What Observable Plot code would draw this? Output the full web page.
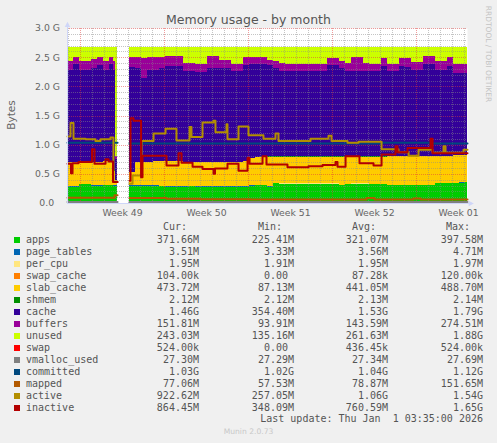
<!DOCTYPE html>
<html><head><meta charset="utf-8">
<script src="https://cdn.jsdelivr.net/npm/d3@7"></script>
<script src="https://cdn.jsdelivr.net/npm/@observablehq/plot@0.6"></script>
<style>
html,body{margin:0;padding:0;background:#F0F0F0;}
#wrap{position:relative;width:497px;height:443px;overflow:hidden;background:#F0F0F0;font-family:"DejaVu Sans",sans-serif;color:#666;}
#chart{position:absolute;left:0;top:0;}
.t{position:absolute;white-space:pre;}
.mono{font-family:"DejaVu Sans Mono",monospace;font-size:10px;line-height:12px;color:#555;}
.sw{position:absolute;width:6px;height:6px;}
</style></head><body><div id="wrap"><div id="chart"></div></div>
<script>
// ---------- series names & colours ----------
const allNames = ["apps","page_tables","per_cpu","swap_cache","slab_cache","shmem","cache","buffers","unused","swap","vmalloc_used","committed","mapped","active","inactive"];
const allColors = ["#00CC00","#0066B3","#FFE680","#FF8000","#FFCC00","#008F00","#330099","#990099","#CCFF00","#FF0000","#808080","#00487D","#B35A00","#B38F00","#B30000"];
const areaNames = allNames.slice(0, 10);

// ---------- time axis (days since graph start) ----------
const xMax = 33.33;
const weekStarts = [1.083, 8.083, 15.083, 22.083, 29.083];
const weekLabels = ["Week 49", "Week 50", "Week 51", "Week 52", "Week 01"];
const yTicks = [0, 0.5, 1.0, 1.5, 2.0, 2.5, 3.0];
const yTickLabels = ["0.0\u00a0\u00a0", "0.5 G", "1.0 G", "1.5 G", "2.0 G", "2.5 G", "3.0 G"];

// ---------- segment A (before the gap), values in G ----------
const segA_t = [0, 0.5, 1, 1.5, 2, 2.5, 3, 3.5, 3.85, 4];
const segA_end = 4.17;
const appsA    = [.28,.28,.32,.32,.30,.30,.31,.31,.30,.30];
const slabA    = [.42,.42,.39,.39,.40,.40,.40,.40,.25,.09];
const cacheA   = [1.57,1.68,1.57,1.56,1.60,1.66,1.57,1.66,1.72,.36];
const buffersA = [.15,.12,.15,.15,.16,.14,.14,.13,.15,.04];
const unusedA  = [.25,.17,.24,.25,.21,.17,.25,.17,.25,1.88];

// ---------- segment B (after the gap) ----------
const segB_t = [5.17,5.67,6.17,6.67,7.17,7.67,8.17,8.67,9.17,9.67,
  10.17,10.67,11.17,11.67,12.17,12.67,13.17,13.67,14.17,14.67,
  15.17,15.67,16.17,16.67,17.17,17.67,18.17,18.67,19.17,19.67,
  20.17,20.67,21.17,21.67,22.17,22.67,23.17,23.67,24.17,24.67,
  25.17,25.67,26.17,26.67,27.17,27.67,28.17,28.67,29.17,29.67,
  30.17,30.67,31.17,31.67,32.17,32.67,33.17];
const segB_end = 33.33;
const appsB = [.30,.30,.30,.30,.30,.29,.28,.28,.28,.28,
  .29,.28,.28,.28,.28,.28,.28,.28,.28,.28,
  .30,.31,.31,.28,.34,.33,.33,.33,.33,.33,
  .33,.33,.33,.33,.33,.31,.32,.33,.33,.33,
  .32,.32,.32,.31,.31,.31,.31,.31,.31,.31,
  .31,.34,.34,.34,.34,.35,.36];
const slabB = [.23,.40,.40,.40,.41,.42,.43,.43,.43,.42,
  .41,.42,.42,.42,.42,.42,.42,.42,.42,.43,
  .47,.47,.48,.51,.45,.46,.46,.46,.46,.46,
  .46,.46,.46,.46,.46,.48,.47,.46,.46,.46,
  .47,.47,.47,.49,.49,.49,.49,.49,.49,.49,
  .49,.46,.46,.46,.47,.46,.46];
const cacheB = [1.80,1.60,1.44,1.58,1.57,1.59,1.63,1.63,1.63,1.55,
  1.55,1.54,1.54,1.61,1.61,1.61,1.61,1.55,1.55,1.64,
  1.60,1.60,1.59,1.57,1.51,1.46,1.46,1.46,1.46,1.46,
  1.46,1.46,1.46,1.57,1.57,1.51,1.46,1.46,1.46,1.46,
  1.46,1.46,1.55,1.45,1.45,1.54,1.53,1.47,1.47,1.57,
  1.57,1.47,1.47,1.54,1.41,1.41,1.40];
const buffersB = [.17,.20,.34,.22,.22,.20,.17,.17,.17,.14,
  .14,.13,.13,.20,.20,.13,.13,.13,.13,.15,
  .13,.11,.11,.09,.12,.14,.12,.12,.12,.12,
  .12,.12,.13,.12,.12,.12,.15,.25,.25,.15,
  .13,.13,.13,.13,.13,.13,.14,.14,.14,.14,
  .14,.16,.16,.16,.16,.16,.16];
const unusedB = [.17,.17,.19,.17,.17,.17,.16,.16,.16,.28,
  .28,.30,.30,.16,.16,.23,.23,.29,.29,.17,
  .17,.18,.18,.22,.25,.28,.30,.30,.30,.30,
  .30,.30,.29,.19,.19,.25,.27,.17,.17,.27,
  .29,.29,.20,.29,.29,.20,.20,.26,.26,.16,
  .16,.24,.24,.17,.29,.29,.29];

// tiny, nearly constant stacked series (G)
const pageTables = 0.0035, perCpu = 0.0019, swapCache = 0.0001, shmem = 0.0021, swap = 0.0005;

// ---------- line series ----------
const vmallocA_t = [0], vmallocA = [0.027];
const vmallocB_t = [5.17], vmallocB = [0.027];
const committedA_t = [0], committedA = [1.04];
const committedB_t = [5.17, 26.17, 30.42], committedB = [1.03, 1.04, 1.03];
const mappedA_t = [0, 3.92], mappedA = [0.10, 0.14];
const mappedB_t = [5.17, 8.25, 11.08, 15.25, 24.92, 25.58, 28.83, 29.42];
const mappedB   = [0.095, 0.08, 0.075, 0.07, 0.095, 0.07, 0.085, 0.07];
const activeA_t = [0, 0.25, 0.5, 1.5, 2.33, 2.75, 3.58, 3.83];
const activeA   = [1.15, 1.38, 1.11, 1.10, 1.07, 1.10, 1.13, 0.37];
const activeB_t = [5.17, 5.42, 6.17, 7.17, 8.17, 9.08, 10.17, 10.33, 11.25, 12.17, 12.33, 13.25, 13.33, 14.25, 15.08, 16.33, 17.33, 17.58, 20.25, 21.75, 22.0, 23.33, 24.25, 26.17, 27.58, 28.42, 29.25, 30.42, 31.33, 31.5, 33.0];
const activeB   = [0.34, 0.48, 1.07, 1.20, 1.28, 1.08, 1.31, 1.14, 1.39, 1.42, 1.22, 1.36, 1.10, 1.32, 1.17, 1.11, 1.20, 1.07, 1.11, 1.16, 1.07, 1.04, 1.06, 0.93, 0.88, 0.82, 0.92, 0.87, 0.98, 0.87, 0.92];
const inactiveA_t = [0, 0.29, 0.42, 0.92, 2.04, 2.25, 3.17, 3.42, 3.79];
const inactiveA   = [0.68, 0.52, 0.69, 0.71, 0.93, 0.68, 0.76, 0.72, 0.37];
const inactiveB_t = [5.17, 5.25, 5.5, 6.13, 6.25, 8.25, 9.25, 9.5, 10.42, 11.25, 12.17, 12.29, 13.33, 14.25, 15.0, 15.17, 16.25, 16.58, 18.33, 20.08, 21.25, 22.33, 22.5, 23.17, 24.33, 25.5, 26.17, 27.33, 27.5, 28.33, 30.25, 30.42];
const inactiveB   = [0.39, 1.46, 1.42, 0.45, 0.82, 0.65, 0.86, 0.70, 0.63, 0.59, 0.51, 0.60, 0.68, 0.56, 0.78, 0.68, 0.81, 0.67, 0.62, 0.64, 0.66, 0.71, 0.63, 0.81, 0.69, 0.65, 0.84, 0.98, 0.88, 0.95, 1.11, 0.86];

// ---------- legend values ----------
const curVals = ["371.66M","3.51M","1.95M","104.00k","473.72M","2.12M","1.46G","151.81M","243.03M","524.00k","27.30M","1.03G","77.06M","922.62M","864.45M"];
const minVals = ["225.41M","3.33M","1.91M","0.00 ","87.13M","2.12M","354.40M","93.91M","135.16M","0.00 ","27.29M","1.02G","57.53M","257.05M","348.09M"];
const avgVals = ["321.07M","3.56M","1.95M","87.28k","441.05M","2.13M","1.53G","143.59M","261.63M","436.45k","27.34M","1.04G","78.87M","1.06G","760.59M"];
const maxVals = ["397.58M","4.71M","1.97M","120.00k","488.70M","2.14M","1.79G","274.51M","1.88G","524.00k","27.69M","1.12G","151.65M","1.54G","1.65G"];

// ---------- build tables ----------
function areaRows(ts, end, cols) {
  const rows = [];
  ts.concat([end]).forEach((t, i) => {
    const j = Math.min(i, ts.length - 1);
    areaNames.forEach((n, k) => {
      const c = cols[k];
      rows.push({t, name: n, v: Array.isArray(c) ? c[j] : c});
    });
  });
  return rows;
}
const areaA = areaRows(segA_t, segA_end, [appsA, pageTables, perCpu, swapCache, slabA, shmem, cacheA, buffersA, unusedA, swap]);
const areaB = areaRows(segB_t, segB_end, [appsB, pageTables, perCpu, swapCache, slabB, shmem, cacheB, buffersB, unusedB, swap]);
function lineRows(ts, vs, end) {
  const r = ts.map((t, i) => ({t, v: vs[i]}));
  r.push({t: end, v: vs[vs.length - 1]});
  return r;
}
const col = n => allColors[allNames.indexOf(n)];
const lineMark = (ts, vs, end, name) => Plot.line(lineRows(ts, vs, end), {x: "t", y: "v", stroke: col(name), strokeWidth: 2, curve: "step-after"});

const daySet = d3.range(0, 34).map(i => 0.083 + i).filter(d => d < xMax && !weekStarts.some(w => Math.abs(w - d) < 0.01));
const yMinor = d3.range(1, 30).filter(i => i % 5 !== 0).map(i => i / 10);
const yMajor = [0.5, 1.0, 1.5, 2.0, 2.5, 3.0];

const triRight = {draw(ctx, s) { const h = Math.sqrt(s); ctx.moveTo(h * 0.5, 0); ctx.lineTo(-h * 0.45, -h * 0.5); ctx.lineTo(-h * 0.45, h * 0.5); ctx.closePath(); }};
const triUp = {draw(ctx, s) { const h = Math.sqrt(s); ctx.moveTo(0, -h * 0.5); ctx.lineTo(-h * 0.5, h * 0.45); ctx.lineTo(h * 0.5, h * 0.45); ctx.closePath(); }};
const axisCol = "#CFD6F8";
const gridGray = {stroke: "#8a8a8a", strokeOpacity: 0.5, strokeDasharray: "1,1", shapeRendering: "crispEdges"};
const gridRed = {stroke: "#e03a3a", strokeOpacity: 0.5, strokeDasharray: "1,1", shapeRendering: "crispEdges"};

const chart = Plot.plot({
  width: 497, height: 220,
  marginLeft: 67, marginRight: 30, marginTop: 28, marginBottom: 17,
  x: {domain: [0, xMax], axis: null},
  y: {domain: [0, 3], axis: null},
  color: {domain: allNames, range: allColors},
  style: {background: "transparent", fontFamily: "DejaVu Sans", fontSize: "9.3px", color: "#666", overflow: "visible"},
  marks: [
    Plot.frame({fill: "white", stroke: null}),
    Plot.areaY(areaA, {x: "t", y: "v", fill: "name", order: areaNames, curve: "step-after", shapeRendering: "crispEdges"}),
    Plot.areaY(areaB, {x: "t", y: "v", fill: "name", order: areaNames, curve: "step-after", shapeRendering: "crispEdges"}),
    Plot.ruleY(yMinor, gridGray),
    Plot.ruleX(daySet, gridGray),
    Plot.ruleY(yMajor, gridRed),
    Plot.ruleX(weekStarts, gridRed),
    lineMark(vmallocA_t, vmallocA, segA_end, "vmalloc_used"),
    lineMark(vmallocB_t, vmallocB, segB_end, "vmalloc_used"),
    lineMark(committedA_t, committedA, segA_end, "committed"),
    lineMark(committedB_t, committedB, segB_end, "committed"),
    lineMark(mappedA_t, mappedA, segA_end, "mapped"),
    lineMark(mappedB_t, mappedB, segB_end, "mapped"),
    lineMark(activeA_t, activeA, segA_end, "active"),
    lineMark(activeB_t, activeB, segB_end, "active"),
    lineMark(inactiveA_t, inactiveA, segA_end, "inactive"),
    lineMark(inactiveB_t, inactiveB, segB_end, "inactive"),
    Plot.ruleY([0], {x1: 0, x2: 33.5, stroke: axisCol, shapeRendering: "crispEdges"}),
    Plot.ruleX([0], {y1: 0, y2: 3.06, stroke: axisCol, shapeRendering: "crispEdges"}),
    Plot.dot([0], {x: 33.63, y: 0, symbol: triRight, r: 3.1, fill: axisCol, stroke: null}),
    Plot.dot([0], {x: 0, y: 3.07, symbol: triUp, r: 3.1, fill: axisCol, stroke: null}),
    Plot.text(yTicks.map((v, i) => ({v, label: yTickLabels[i]})), {x: 0, y: "v", text: "label", textAnchor: "end", dx: -7.5, fill: "#666", fontSize: 9.3}),
    Plot.text(weekStarts.map((t, i) => ({t: t + 3.5, label: weekLabels[i]})), {x: "t", text: "label", frameAnchor: "bottom", dy: 9.7, lineAnchor: "middle", fill: "#666", fontSize: 9.3})
  ]
});
document.getElementById("chart").appendChild(chart);

// ---------- text around the chart ----------
const wrap = document.getElementById("wrap");
function addDiv(cls, text, style) {
  const d = document.createElement("div");
  d.className = cls; d.textContent = text;
  Object.assign(d.style, style);
  wrap.appendChild(d);
  return d;
}
addDiv("t", "Memory usage - by month", {left: "0px", width: "497px", textAlign: "center", top: "11.5px", fontSize: "12.5px", lineHeight: "16px", color: "#555"});
addDiv("t", "Bytes", {left: "-19.5px", width: "60px", textAlign: "center", top: "108px", fontSize: "10.5px", lineHeight: "14px", color: "#666", transform: "rotate(-90deg)"});
addDiv("t", "RRDTOOL / TOBI OETIKER", {left: "432.5px", width: "110px", textAlign: "center", top: "48.5px", fontSize: "7.5px", lineHeight: "10px", color: "#c4c4c4", transform: "rotate(90deg)"});

const headers = [["Cur:", 187], ["Min:", 282], ["Avg:", 376], ["Max:", 470]];
headers.forEach(([h, r]) => addDiv("t mono", h, {right: (497 - r) + "px", top: "221.3px", textAlign: "right"}));
const colRights = [199, 294, 388, 483];
allNames.forEach((n, i) => {
  const cy = 240 + 12 * i;
  const sw = document.createElement("div");
  sw.className = "sw";
  Object.assign(sw.style, {left: "14px", top: (cy - 3) + "px", background: allColors[i]});
  wrap.appendChild(sw);
  addDiv("t mono", n, {left: "26px", top: (cy - 6) + "px"});
  [curVals, minVals, avgVals, maxVals].forEach((arr, k) => {
    addDiv("t mono", arr[i], {right: (497 - colRights[k]) + "px", top: (cy - 6) + "px", textAlign: "right"});
  });
});
addDiv("t mono", "Last update: Thu Jan  1 03:35:00 2026", {right: "14px", top: "413.3px", textAlign: "right"});
addDiv("t", "Munin 2.0.73", {left: "0px", width: "497px", textAlign: "center", top: "427px", fontSize: "7.6px", lineHeight: "10px", color: "#c8c8c8"});
</script></body></html>
